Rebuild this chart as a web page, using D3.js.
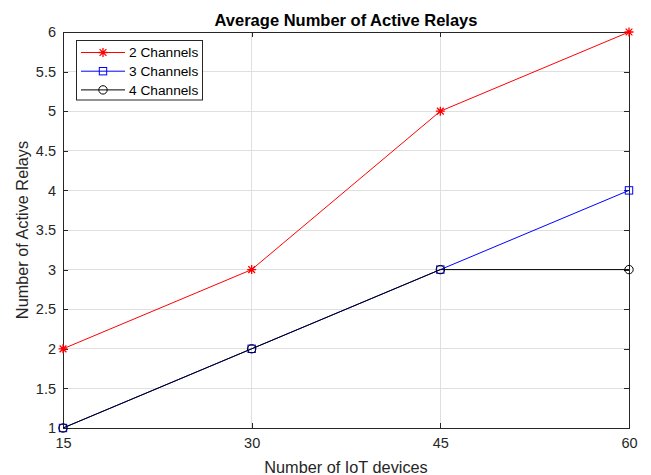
<!DOCTYPE html>
<html><head><meta charset="utf-8">
<script src="https://cdn.jsdelivr.net/npm/d3@7"></script>
<style>body{margin:0;background:#fff}svg{display:block}text{font-family:"Liberation Sans",Arial,sans-serif}</style>
</head><body>
<script>
const devices = [15, 30, 45, 60];
const ch2 = [2, 3, 5, 6];
const ch3 = [1, 2, 3, 4];
const ch4 = [1, 2, 3, 3];
const seriesNames = ["2 Channels", "3 Channels", "4 Channels"];
const xTicks = [15, 30, 45, 60];
const yTicks = [1, 1.5, 2, 2.5, 3, 3.5, 4, 4.5, 5, 5.5, 6];

const W = 651, H = 475;
const m = {l: 63, r: 22, t: 32, b: 47};
const svg = d3.select("body").append("svg").attr("width", W).attr("height", H);
const x = d3.scaleLinear().domain([15, 60]).range([m.l, W - m.r]);
const y = d3.scaleLinear().domain([1, 6]).range([H - m.b, m.t]);
const axisCol = "#262626";

// grid
svg.append("g").selectAll("line").data(xTicks).join("line")
  .attr("x1", d => x(d)).attr("x2", d => x(d)).attr("y1", m.t).attr("y2", H - m.b)
  .attr("stroke", "#dfdfdf").attr("stroke-width", 1).attr("shape-rendering", "crispEdges");
svg.append("g").selectAll("line").data(yTicks).join("line")
  .attr("x1", m.l).attr("x2", W - m.r).attr("y1", d => y(d)).attr("y2", d => y(d))
  .attr("stroke", "#dfdfdf").attr("stroke-width", 1).attr("shape-rendering", "crispEdges");

// axes
const fmt = d => String(d);
const gx = svg.append("g").attr("transform", `translate(0,${H - m.b})`)
  .call(d3.axisBottom(x).tickValues(xTicks).tickFormat(fmt).tickSizeInner(-5).tickSizeOuter(0).tickPadding(10));
const gy = svg.append("g").attr("transform", `translate(${m.l},0)`)
  .call(d3.axisLeft(y).tickValues(yTicks).tickFormat(fmt).tickSizeInner(-5).tickSizeOuter(0).tickPadding(7));
const gt = svg.append("g").attr("transform", `translate(0,${m.t})`)
  .call(d3.axisTop(x).tickValues(xTicks).tickFormat("").tickSizeInner(-5).tickSizeOuter(0));
const gr = svg.append("g").attr("transform", `translate(${W - m.r},0)`)
  .call(d3.axisRight(y).tickValues(yTicks).tickFormat("").tickSizeInner(-5).tickSizeOuter(0));
[gx, gy, gt, gr].forEach(g => {
  g.selectAll("path,line").attr("stroke", axisCol).attr("shape-rendering", "crispEdges");
  g.selectAll("text").attr("fill", axisCol).style("font-size", "14.5px").attr("font-family", "Liberation Sans, Arial, sans-serif");
});

const line = d3.line().x((d, i) => x(devices[i])).y(d => y(d));
const series = [
  {name: seriesNames[0], vals: ch2, color: "#ff0000", marker: "star"},
  {name: seriesNames[1], vals: ch3, color: "#0000ff", marker: "square"},
  {name: seriesNames[2], vals: ch4, color: "#000000", marker: "circle"}
];

function drawMarker(g, type, cx, cy, color) {
  if (type === "star") {
    const r = 4.5;
    g.append("path").attr("d",
      `M${cx - r},${cy}L${cx + r},${cy}M${cx},${cy - r}L${cx},${cy + r}` +
      `M${cx - r * 0.75},${cy - r * 0.75}L${cx + r * 0.75},${cy + r * 0.75}` +
      `M${cx - r * 0.75},${cy + r * 0.75}L${cx + r * 0.75},${cy - r * 0.75}`)
      .attr("stroke", color).attr("stroke-width", 1.3).attr("fill", "none");
  } else if (type === "square") {
    g.append("rect").attr("x", cx - 3.7).attr("y", cy - 3.7).attr("width", 7.4).attr("height", 7.4)
      .attr("fill", "none").attr("stroke", color).attr("stroke-width", 1);
  } else {
    g.append("circle").attr("cx", cx).attr("cy", cy).attr("r", 4.2)
      .attr("fill", "none").attr("stroke", color).attr("stroke-width", 1);
  }
}

series.forEach(s => {
  const g = svg.append("g");
  g.append("path").datum(s.vals).attr("d", line).attr("fill", "none")
    .attr("stroke", s.color).attr("stroke-width", 1);
  s.vals.forEach((v, i) => drawMarker(g, s.marker, x(devices[i]), y(v), s.color));
});

// legend
const lg = svg.append("g");
lg.append("rect").attr("x", 76.5).attr("y", 40.5).attr("width", 126).attr("height", 59.5)
  .attr("fill", "#fff").attr("stroke", axisCol).attr("stroke-width", 1);
series.forEach((s, i) => {
  const yy = 52.5 + i * 18.7;
  lg.append("line").attr("x1", 81).attr("x2", 125).attr("y1", yy).attr("y2", yy)
    .attr("stroke", s.color).attr("stroke-width", 1);
  drawMarker(lg, s.marker, 103, yy, s.color);
  lg.append("text").attr("x", 129).attr("y", yy + 4.8).text(s.name)
    .style("font-size", "13.7px").attr("fill", "#000");
});

// titles
svg.append("text").attr("x", (m.l + W - m.r) / 2).attr("y", 26).attr("text-anchor", "middle")
  .style("font-size", "16.5px").style("font-weight", "bold").attr("fill", "#000")
  .text("Average Number of Active Relays");
svg.append("text").attr("x", (m.l + W - m.r) / 2).attr("y", 473).attr("text-anchor", "middle")
  .style("font-size", "16.3px").attr("fill", axisCol).text("Number of IoT devices");
svg.append("text").attr("transform", `translate(28,${(m.t + H - m.b) / 2}) rotate(-90)`)
  .attr("text-anchor", "middle").style("font-size", "16.3px").attr("fill", axisCol)
  .text("Number of Active Relays");
</script>
</body></html>
